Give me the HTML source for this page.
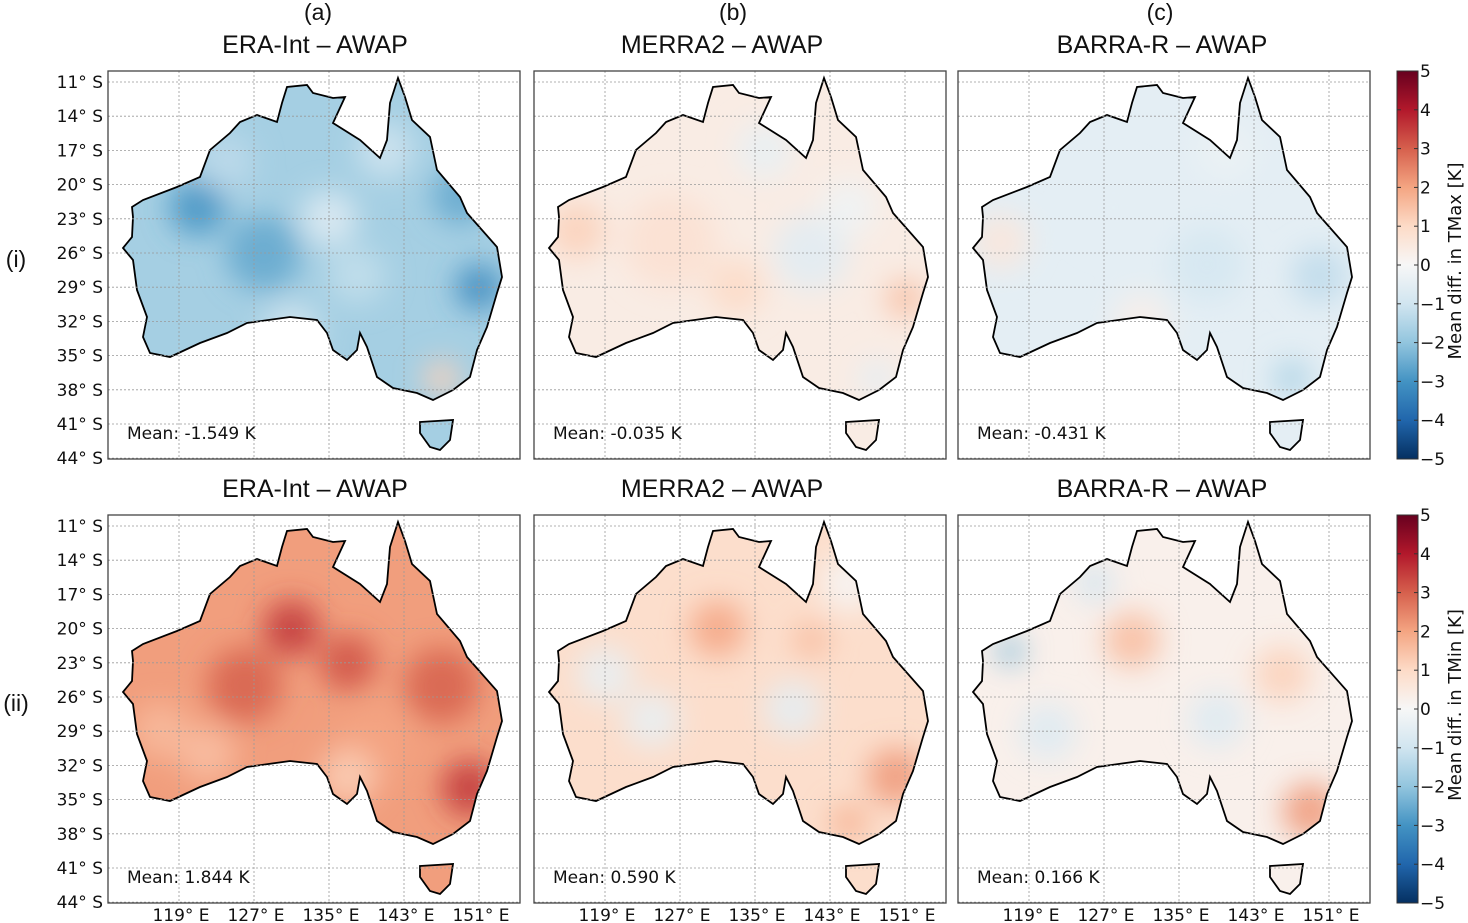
<!DOCTYPE html>
<html><head><meta charset="utf-8"><style>
body{margin:0;background:#fff;}
svg{display:block;font-family:"DejaVu Sans","Liberation Sans",sans-serif;}
.ttl{font-family:"Liberation Sans","DejaVu Sans",sans-serif;}
</style></head><body>
<svg id="fig" width="1468" height="923" viewBox="0 0 1468 923"></svg>
<script>
// ---- data ----
const colLetters = ["(a)","(b)","(c)"];
const colTitles = ["ERA-Int \u2013 AWAP","MERRA2 \u2013 AWAP","BARRA-R \u2013 AWAP"];
const rowLabels = ["(i)","(ii)"];
const rowVars = ["TMax","TMin"];
const meanValues = [[-1.549,-0.035,-0.431],[1.844,0.590,0.166]];
const baseValues = [[-1.7,0.4,-0.5],[2.1,0.9,0.25]];
// blobs per panel: [lon, lat, radiusDeg, value]
const blobs = [
 [ [[121,22,3,-3],[128,26,4,-2.6],[135,23,3,-0.6],[138,28,3,-1.2],[149,21,3,-2.6],[151,29,2.5,-3.2],[147,37,2,1.2],[141,17,3,-1],[124,18,3,-1.3],[131,33,3,-0.8]],
   [[116,24,3,1.2],[126,25,5,0.8],[133,29,3,1],[141,26,4,-0.6],[151,30,2,1.6],[148,37,2,-0.5],[136,17,3,-0.4],[145,22,3,-0.2]],
   [[116,25,3,0.6],[128,22,4,-0.5],[138,27,4,-0.9],[150,28,3,-1.3],[147,37,2,-1.6],[140,17,3,-0.3],[131,32,3,0.3]] ],
 [ [[131,20,3,3.6],[126,25,4,3],[137,23,3,3.2],[147,25,4,3],[150,34,3,3.6],[117,29,3,1.6],[140,30,4,2],[137,33,3,1.2],[122,31,3,1.5]],
   [[131,20,3,2],[141,21,2,1.6],[119,24,3,-0.4],[124,28,3,-0.4],[139,27,3,-0.5],[150,33,3,2.2],[145,37,2,1.8],[145,16,3,0]],
   [[117,22,1.5,-2.2],[130,21,3,1.6],[126,16,2,-1],[139,28,3,-0.7],[121,29,3,-0.7],[149,36,3,2.2],[146,24,3,1.2]] ]
];
const latTicks = [11,14,17,20,23,26,29,32,35,38,41,44];
const lonTicks = [119,127,135,143,151];
const cbTicks = [5,4,3,2,1,0,-1,-2,-3,-4,-5];
// ---- geometry ----
const colX = [108,534,958], rowY = [71,515], PW=412, PH=388;
const lonX = lon => 71 + (lon-119)*9.375;   // local x
const latY = lat => 11 + (lat-11)*11.4;     // local y
const coast = [[24,136],[35,129],[69,116],[92,106],[102,79],[122,62],[132,51],[149,44],[169,51],[174,32],[179,16],[199,14],[205,22],[225,27],[237,26],[225,52],[252,69],[272,87],[279,69],[282,32],[290,7],[297,26],[304,49],[322,66],[329,99],[352,126],[359,142],[389,176],[394,206],[389,222],[379,256],[369,279],[362,306],[345,319],[325,329],[309,322],[285,317],[269,306],[259,276],[252,262],[249,279],[239,289],[225,279],[219,262],[209,249],[182,246],[139,252],[119,262],[92,272],[62,286],[42,282],[35,266],[39,246],[29,219],[25,189],[15,177],[24,166],[25,146]];
const tas = [[312,351],[345,349],[342,369],[332,379],[322,376],[312,362]];
const cmapStops=[[-5,[5,48,97]],[-4,[33,102,172]],[-3,[67,147,195]],[-2,[146,197,222]],[-1,[209,229,240]],[0,[247,247,247]],[1,[253,219,199]],[2,[244,165,130]],[3,[214,96,77]],[4,[178,24,43]],[5,[103,0,31]]];
function cmap(v){v=Math.max(-5,Math.min(5,v));for(let i=0;i<cmapStops.length-1;i++){const a=cmapStops[i],b=cmapStops[i+1];if(v<=b[0]){const t=(v-a[0])/(b[0]-a[0]);return 'rgb('+a[1].map((c,k)=>Math.round(c+(b[1][k]-c)*t)).join(',')+')';}}}
const NS="http://www.w3.org/2000/svg";
const svg=document.getElementById('fig');
function el(tag,attrs,parent){const e=document.createElementNS(NS,tag);for(const k in attrs)e.setAttribute(k,attrs[k]);(parent||svg).appendChild(e);return e;}
function txt(s,attrs,parent){const e=el('text',attrs,parent);e.textContent=s;return e;}
const defs=el('defs',{});
const blur=el('filter',{id:'blur',x:'-50%',y:'-50%',width:'200%',height:'200%'},defs);
el('feGaussianBlur',{stdDeviation:'14'},blur);
const pts=coast.map(p=>p.join(',')).join(' ');
const tpts=tas.map(p=>p.join(',')).join(' ');
const cp=el('clipPath',{id:'aus'},defs);
el('polygon',{points:pts},cp);el('polygon',{points:tpts},cp);

colLetters.forEach((l,c)=>{
  const t=txt(l,{x:colX[c]+PW/2+(c==0?4:(c==1?-7:-4)),y:20,'font-size':23,'text-anchor':'middle',fill:'#111',class:'ttl'});
  
  
});
rowLabels.forEach((l,r)=>{
  const t=txt(l,{x:16,y:rowY[r]+196,'font-size':23,'text-anchor':'middle',fill:'#111',class:'ttl'});
  
  
});

for(let r=0;r<2;r++){
 for(let c=0;c<3;c++){
  const g=el('g',{transform:`translate(${colX[c]},${rowY[r]})`});
  
  
  const tt=txt(colTitles[c],{x:PW/2+(c==0?1:(c==1?-18:-2)),y:-18,'font-size':25,'text-anchor':'middle',fill:'#111',class:'ttl'},g);
  
  
  const fg=el('g',{'clip-path':'url(#aus)'},g);
  el('rect',{x:0,y:0,width:PW,height:PH,fill:cmap(baseValues[r][c])},fg);
  const bg=el('g',{filter:'url(#blur)'},fg);
  blobs[r][c].forEach(b=>{
    const e=el('ellipse',{cx:lonX(b[0]),cy:latY(b[1]),rx:b[2]*9.4,ry:b[2]*9.4,fill:cmap(b[3]),opacity:0.85},bg);
    
    
  });
  const cl=el('polygon',{points:pts,fill:'none',stroke:'#000','stroke-width':1.8},g);
  
  
  el('polygon',{points:tpts,fill:'none',stroke:'#000','stroke-width':1.8},g);
  latTicks.forEach(lat=>{const y=latY(lat);el('line',{x1:0,x2:PW,y1:y,y2:y,stroke:'#999','stroke-width':0.8,'stroke-dasharray':'2,2'},g);});
  lonTicks.forEach(lon=>{const x=lonX(lon);el('line',{x1:x,x2:x,y1:0,y2:PH,stroke:'#999','stroke-width':0.8,'stroke-dasharray':'2,2'},g);});
  const fr=el('rect',{x:0,y:0,width:PW,height:PH,fill:'none',stroke:'#444','stroke-width':1.3},g);
  
  
  const v=meanValues[r][c];
  const mt=txt('Mean: '+v.toFixed(3)+' K',{x:19,y:368,'font-size':17,fill:'#111'},g);
  
  
  if(c==0){
    latTicks.forEach(lat=>{
      const t=txt(lat+'\u00b0 S',{x:-5,y:latY(lat)+6,'font-size':17,'text-anchor':'end',fill:'#111'},g);
      
      
    });
  }
  if(r==1){
    lonTicks.forEach(lon=>{
      const t=txt(lon+'\u00b0 E',{x:lonX(lon)+2,y:PH+18,'font-size':17,'text-anchor':'middle',fill:'#111'},g);
      
      
    });
  }
 }
 const cg=el('g',{transform:`translate(1397,${rowY[r]})`});
 
 
 const gid='cbg'+r;
 const lg=el('linearGradient',{id:gid,x1:0,y1:1,x2:0,y2:0},defs);
 cmapStops.forEach(s=>el('stop',{offset:((s[0]+5)/10),'stop-color':cmap(s[0])},lg));
 el('rect',{x:0,y:0,width:21,height:PH,fill:`url(#${gid})`,stroke:'#333','stroke-width':1},cg);
 cbTicks.forEach(v=>{
   const y=PH*(5-v)/10;
   el('line',{x1:0,x2:4,y1:y,y2:y,stroke:'#333'},cg);
   el('line',{x1:17,x2:21,y1:y,y2:y,stroke:'#333'},cg);
   const t=txt((v<0?'\u2212':'')+Math.abs(v),{x:23,y:y+6,'font-size':17,fill:'#111'},cg);
   
   
 });
 const cl=txt('Mean diff. in '+rowVars[r]+' [K]',{x:0,y:0,'font-size':18,'text-anchor':'middle',fill:'#111',transform:`translate(64,${PH/2-4}) rotate(-90)`},cg);
 
 
}
</script>
</body></html>
